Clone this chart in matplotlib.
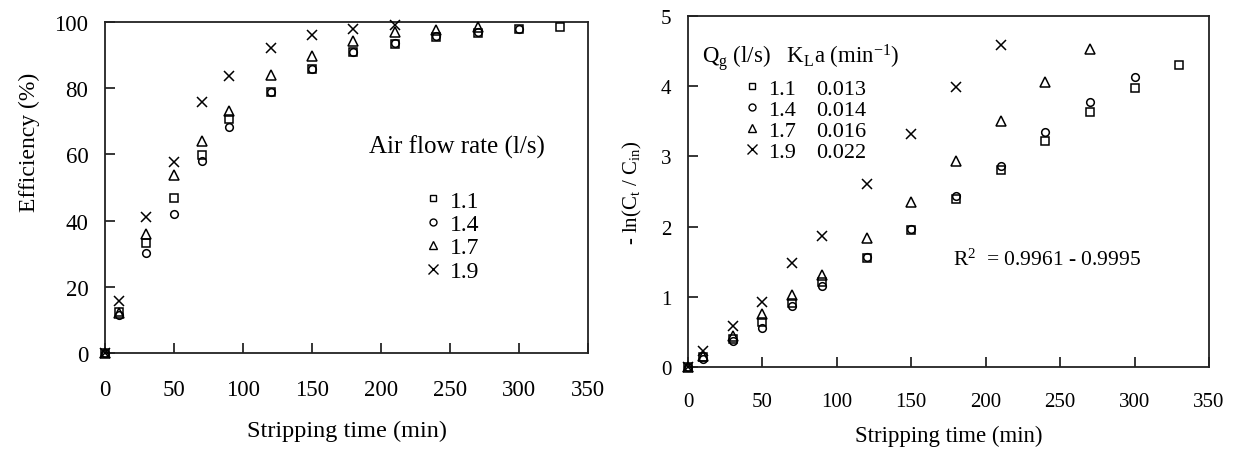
import matplotlib.pyplot as plt
from matplotlib.lines import Line2D

plt.rcParams['font.family'] = ['Liberation Serif', 'DejaVu Serif']
plt.rcParams['mathtext.fontset'] = 'custom'
plt.rcParams['mathtext.rm'] = 'Liberation Serif'
plt.rcParams['mathtext.it'] = 'Liberation Serif:italic'

# ---------------- data ----------------
flow_rates = ['1.1', '1.4', '1.7', '1.9']
kla_values = ['0.013', '0.014', '0.016', '0.022']
markers = ['s', 'o', '^', 'x']

# left chart: efficiency (%) vs stripping time (min)
t_11 = [0, 10, 30, 50, 70, 90, 120, 150, 180, 210, 240, 270, 300, 330]
eff_11 = [0, 12.3, 33.3, 46.8, 59.7, 70.6, 78.9, 85.8, 91.0, 93.5, 95.5, 96.6, 97.9, 98.4]
t_14 = [0, 10, 30, 50, 70, 90, 120, 150, 180, 210, 240, 270, 300]
eff_14 = [0, 11.6, 30.3, 41.9, 58.0, 68.3, 78.9, 85.8, 91.0, 93.8, 95.8, 97.0, 97.9]
t_17 = [0, 10, 30, 50, 70, 90, 120, 150, 180, 210, 240, 270]
eff_17 = [0, 12.1, 36.1, 53.7, 64.0, 73.1, 84.0, 89.8, 94.3, 97.0, 97.7, 98.4]
t_19 = [0, 10, 30, 50, 70, 90, 120, 150, 180, 210]
eff_19 = [0, 15.8, 41.0, 57.8, 75.7, 83.7, 92.3, 96.0, 97.9, 99.2]

# right chart: -ln(Ct/Cin) vs stripping time (min)
ln_11 = [0, 0.14, 0.40, 0.64, 0.91, 1.21, 1.55, 1.95, 2.39, 2.80, 3.22, 3.63, 3.97, 4.30]
ln_14 = [0, 0.12, 0.37, 0.56, 0.87, 1.16, 1.56, 1.97, 2.44, 2.86, 3.35, 3.77, 4.13]
ln_17 = [0, 0.15, 0.44, 0.75, 1.03, 1.31, 1.84, 2.35, 2.93, 3.51, 4.06, 4.53]
ln_19 = [0, 0.23, 0.58, 0.92, 1.48, 1.87, 2.61, 3.32, 3.99, 4.58]

times = [t_11, t_14, t_17, t_19]
effs = [eff_11, eff_14, eff_17, eff_19]
lns = [ln_11, ln_14, ln_17, ln_19]

fig = plt.figure(figsize=(12.34, 4.52), dpi=100)
ax1 = fig.add_axes([0.0851, 0.2168, 0.3914, 0.7322])
ax2 = fig.add_axes([0.5575, 0.1858, 0.4222, 0.7766])


def style_axes(ax, fs, xpad, ypad):
    for s in ax.spines.values():
        s.set_linewidth(1.3)
        s.set_color('#222222')
    ax.tick_params(direction='in', length=7, width=1.1, labelsize=fs,
                   top=False, right=False)
    ax.tick_params(axis='x', pad=xpad)
    ax.tick_params(axis='y', pad=ypad)
    ax.set_xlim(0, 350)
    ax.set_xticks(range(0, 351, 50))


def draw(ax, ys):
    for t, y, m in zip(times, ys, markers):
        if m == 'x':
            ax.plot(t, y, ls='none', marker='x', ms=7.5, mew=1.1, color='black', clip_on=False, zorder=5)
        else:
            ax.plot(t, y, ls='none', marker=m, ms=5.5 if m != '^' else 7, mew=1.1,
                    mfc='none', mec='black', clip_on=False, zorder=5)


def legend_handles():
    hs = []
    for m in markers:
        if m == 'x':
            hs.append(Line2D([], [], ls='none', marker='x', ms=7, mew=1.0, color='black'))
        else:
            hs.append(Line2D([], [], ls='none', marker=m, ms=5 if m != '^' else 6,
                             mew=1.0, mfc='none', mec='black'))
    return hs


# ---------------- left chart ----------------
style_axes(ax1, 16.5, 19, 12)
draw(ax1, effs)
ax1.set_ylim(0, 100)
ax1.set_yticks(range(0, 101, 20))
ax1.set_xlabel('Stripping time (min)', fontsize=17.5, labelpad=14)
ax1.set_ylabel('Efficiency (%)', fontsize=17)
ax1.yaxis.set_label_coords(-0.165 + 0.03, 0.64)
ax1.text(0.729, 0.625, 'Air flow rate (l/s)', transform=ax1.transAxes,
         ha='center', va='center', fontsize=18)
ax1.legend(legend_handles(), flow_rates, loc='upper left', bbox_to_anchor=(0.635, 0.528),
           frameon=False, fontsize=17, handlelength=0.8, handletextpad=0.3,
           labelspacing=0.08, borderpad=0)

# ---------------- right chart ----------------
style_axes(ax2, 15, 18, 12)
draw(ax2, lns)
ax2.set_ylim(0, 5)
ax2.set_yticks(range(0, 6))
ax2.set_xlabel('Stripping time (min)', fontsize=16.5, labelpad=10)
ax2.set_ylabel(r'- ln(C$_\mathrm{t}$ / C$_\mathrm{in}$)', fontsize=15, labelpad=12)
ax2.text(0.027, 0.885, r'Q$_\mathrm{g}$ (l/s)   K$_\mathrm{L}$a (min$^{-1}$)',
         transform=ax2.transAxes, ha='left', va='center', fontsize=16.5)
blank = [Line2D([], [], ls='none') for _ in kla_values]
ax2.legend(legend_handles() + blank, flow_rates + kla_values, ncol=2,
           loc='upper left', bbox_to_anchor=(0.085, 0.855), frameon=False, fontsize=16,
           handlelength=0.8, handletextpad=0.3, labelspacing=0.02, borderpad=0,
           columnspacing=-0.2)
ax2.text(178, 1.54, r'R$^2$  = 0.9961 - 0.9995', fontsize=15.5, ha='left', va='center')

fig.savefig('out.png', dpi=100)
